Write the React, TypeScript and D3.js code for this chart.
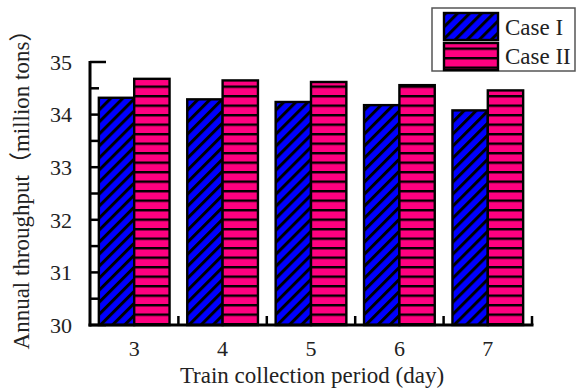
import React from 'react';
import * as d3 from 'd3';

const periods = ['3', '4', '5', '6', '7'];
const caseI = [34.32, 34.29, 34.24, 34.18, 34.08];
const caseII = [34.68, 34.65, 34.62, 34.56, 34.46];
const seriesNames = ['Case I', 'Case II'];
const yTicks = [30, 31, 32, 33, 34, 35];

const W = 577;
const H = 390;
const left = 90, right = 532, top = 62, bottom = 325;
const font = 'Liberation Serif, Times New Roman, serif';
const txt = { fontFamily: font, fill: '#222' };

export default function App() {
  const x0 = d3.scaleBand<string>().domain(periods).range([left, right]).paddingInner(0.2).paddingOuter(0.1);
  const x1 = d3.scaleBand<string>().domain(seriesNames).range([0, x0.bandwidth()]);
  const y = d3.scaleLinear().domain([30, 35]).range([bottom, top]);
  const minorTicks = d3.range(30.5, 35, 1);
  const fills = ['url(#diag)', 'url(#horiz)'];
  const values = [caseI, caseII];

  return (
    <svg width={W} height={H} style={{ position: 'absolute', left: 0, top: 0, fontFamily: font }}>
      <defs>
        <pattern id="diag" patternUnits="userSpaceOnUse" width="8.5" height="8.5" patternTransform="rotate(45)">
          <rect width="8.5" height="8.5" fill="#0000ff" />
          <line x1="1.5" y1="0" x2="1.5" y2="8.5" stroke="#000" strokeWidth="3" />
        </pattern>
        <pattern id="horiz" patternUnits="userSpaceOnUse" width="10" height="9.5">
          <rect width="10" height="9.5" fill="#ff0080" />
          <line x1="0" y1="1.2" x2="10" y2="1.2" stroke="#000" strokeWidth="2.4" />
        </pattern>
      </defs>

      {/* y ticks (inward) */}
      {yTicks.map(t => (
        <line key={'M' + t} x1={left} x2={left + 16} y1={y(t)} y2={y(t)} stroke="#000" strokeWidth={2.5} />
      ))}
      {minorTicks.map(t => (
        <line key={'m' + t} x1={left} x2={left + 9} y1={y(t)} y2={y(t)} stroke="#000" strokeWidth={2.5} />
      ))}

      {/* bars */}
      {periods.map((p, i) => (
        <g key={p} transform={`translate(${x0(p)},0)`}>
          {seriesNames.map((s, j) => (
            <rect key={s} x={x1(s)} y={y(values[j][i])} width={x1.bandwidth()} height={bottom - y(values[j][i])}
              fill={fills[j]} stroke="#000" strokeWidth={2.4} />
          ))}
        </g>
      ))}

      {/* axes */}
      <line x1={left} x2={left} y1={top - 1} y2={bottom + 1.5} stroke="#000" strokeWidth={3} />
      <line x1={left - 1.5} x2={right + 1.5} y1={bottom} y2={bottom} stroke="#000" strokeWidth={3} />
      {periods.map(p => {
        const bx = (x0(p) ?? 0) + x0.bandwidth() + (x0.step() * x0.paddingInner()) / 2;
        return <line key={'xt' + p} x1={bx} x2={bx} y1={bottom} y2={bottom - 9} stroke="#000" strokeWidth={2.5} />;
      })}

      {/* tick labels */}
      {yTicks.map(t => (
        <text key={'yl' + t} x={72} y={y(t)} dy="0.35em" textAnchor="end" fontSize={22} style={txt}>{t}</text>
      ))}
      {periods.map(p => (
        <text key={'xl' + p} x={(x0(p) ?? 0) + x0.bandwidth() / 2} y={356} textAnchor="middle" fontSize={22} style={txt}>{p}</text>
      ))}

      {/* axis titles */}
      <text x={(left + right) / 2 + 1} y={383} textAnchor="middle" fontSize={23} style={txt}>
        Train collection period (day)
      </text>
      <text transform="translate(29,184) rotate(-90)" textAnchor="middle" fontSize={23} style={txt}>
        Annual throughput<tspan style={{ fontFamily: 'Noto Sans CJK SC' }}>（</tspan>million tons<tspan style={{ fontFamily: 'Noto Sans CJK SC' }}>）</tspan>
      </text>

      {/* legend */}
      <rect x={432} y={8} width={143} height={63} fill="#fff" stroke="#555" strokeWidth={1.5} />
      {seriesNames.map((s, j) => (
        <g key={'lg' + s}>
          <rect x={444} y={13 + j * 30} width={54} height={27} fill={fills[j]} stroke="#000" strokeWidth={2.4} />
          <text x={505} y={35 + j * 28.5} fontSize={23} style={txt}>{s}</text>
        </g>
      ))}
    </svg>
  );
}
